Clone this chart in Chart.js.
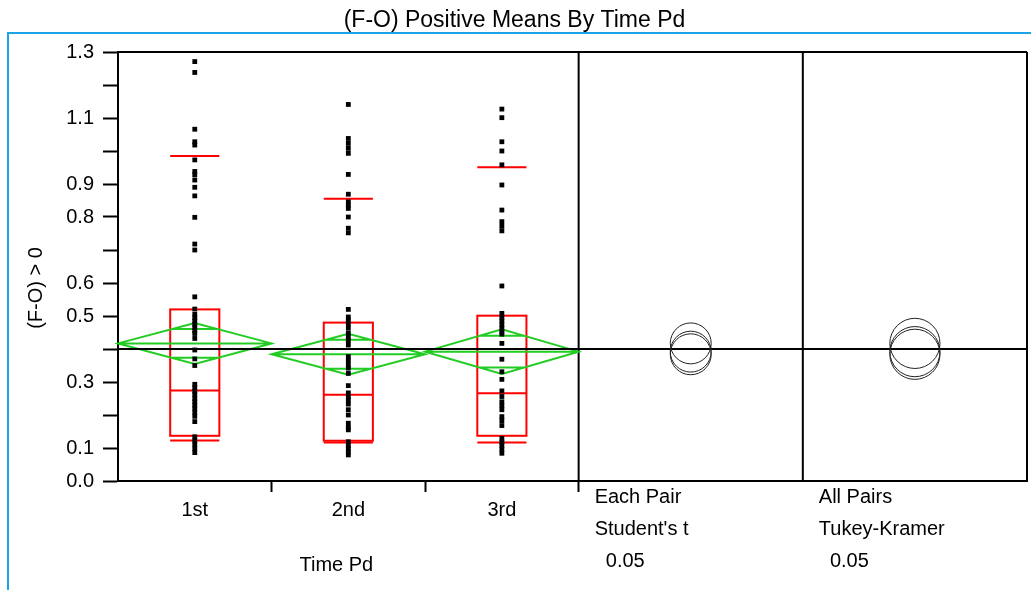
<!DOCTYPE html>
<html>
<head>
<meta charset="utf-8">
<script src="https://cdn.jsdelivr.net/npm/chart.js@4"></script>
<style>
  html, body { margin: 0; padding: 0; background: #fff; }
  #wrap { width: 1031px; height: 590px; }
</style>
</head>
<body>
<div id="wrap"><canvas id="chart"></canvas></div>
<script>
// categories
const groups = ['1st', '2nd', '3rd'];

// raw (F-O) values per time period
const pts1st = [1.271, 1.238, 1.066, 1.028, 1.018, 0.973, 0.938, 0.928, 0.912, 0.89, 0.864, 0.799, 0.718, 0.70,
    0.558, 0.521, 0.505, 0.495, 0.485, 0.475, 0.465, 0.455, 0.447, 0.432, 0.397, 0.37, 0.35,
    0.293, 0.283, 0.272, 0.262, 0.25, 0.24, 0.23, 0.22, 0.208, 0.196, 0.18,
    0.134, 0.122, 0.11, 0.098, 0.086];
const pts2nd = [1.141, 1.038, 1.023, 1.008, 0.993, 0.929, 0.869, 0.846, 0.836, 0.826, 0.80, 0.766, 0.752,
    0.52, 0.497, 0.487, 0.476, 0.463, 0.448, 0.436, 0.425, 0.412, 0.377, 0.365, 0.352, 0.342, 0.326,
    0.289, 0.267, 0.256, 0.245, 0.233, 0.216, 0.2, 0.175, 0.163, 0.155,
    0.119, 0.108, 0.098, 0.088, 0.079];
const pts3rd = [1.127, 1.101, 1.028, 1.0, 0.958, 0.897, 0.821, 0.786, 0.772, 0.758, 0.591,
    0.508, 0.496, 0.485, 0.474, 0.463, 0.452, 0.445, 0.417, 0.369, 0.331, 0.308,
    0.273, 0.256, 0.24, 0.228, 0.216, 0.195, 0.183, 0.168,
    0.129, 0.118, 0.107, 0.096, 0.084];

// quantile boxes
const q10 = [0.123, 0.117, 0.117];
const q25 = [0.137, 0.122, 0.137];
const q50 = [0.274, 0.261, 0.266];
const q75 = [0.52, 0.48, 0.501];
const q90 = [0.985, 0.855, 0.951];

// means diamonds
const means = [0.417, 0.384, 0.392];
const ciHalf = [0.062, 0.062, 0.068];
const grandMean = 0.40;

// comparison circles (radius in data units)
const studentRadius = 0.062;
const tukeyRadius = 0.076;
const compareTexts = [
    ['Each Pair', "Student's t", '  0.05'],
    ['All Pairs', 'Tukey-Kramer', '  0.05']
];

// y ticks that carry a label
const yLabelled = [0.0, 0.1, 0.3, 0.5, 0.6, 0.8, 0.9, 1.1, 1.3];

const panelWidth = 1.46;
const xMax = groups.length + 2 * panelWidth;
const FONT = 'Liberation Sans, Arial, sans-serif';
const RED = '#FF0000';
const GREEN = '#22CC22';

const allPts = [pts1st, pts2nd, pts3rd];
const pointData = [];
allPts.forEach((arr, i) => arr.forEach(v => pointData.push({ x: i + 0.5, y: v })));

function circleRadius(r) {
    return (ctx) => {
        const s = ctx.chart.scales.y;
        return s.getPixelForValue(0) - s.getPixelForValue(r);
    };
}

const circleStyle = {
    type: 'scatter',
    pointStyle: 'circle',
    backgroundColor: 'rgba(0,0,0,0)',
    borderColor: '#222',
    borderWidth: 1
};

const decor = {
    id: 'decor',
    beforeDatasetsDraw(chart) {
        const { ctx, chartArea: a, scales: { x, y } } = chart;
        ctx.save();
        // frame + panel dividers
        ctx.strokeStyle = '#000';
        ctx.lineWidth = 2;
        ctx.beginPath();
        ctx.moveTo(a.left, a.top); ctx.lineTo(a.right, a.top);
        [groups.length, groups.length + panelWidth, xMax].forEach(v => {
            const px = x.getPixelForValue(v);
            ctx.moveTo(px, a.top); ctx.lineTo(px, a.bottom);
        });
        ctx.stroke();

        // quantile boxes
        ctx.strokeStyle = RED;
        ctx.lineWidth = 2;
        groups.forEach((g, i) => {
            const l = x.getPixelForValue(i + 0.5 - 0.16);
            const r = x.getPixelForValue(i + 0.5 + 0.16);
            const t = y.getPixelForValue(q75[i]);
            const b = y.getPixelForValue(q25[i]);
            ctx.strokeRect(l, t, r - l, b - t);
            ctx.beginPath();
            [q50[i], q10[i], q90[i]].forEach(v => {
                const py = y.getPixelForValue(v);
                ctx.moveTo(l, py); ctx.lineTo(r, py);
            });
            ctx.stroke();
        });

        // means diamonds
        ctx.strokeStyle = GREEN;
        ctx.lineWidth = 2;
        groups.forEach((g, i) => {
            const l = x.getPixelForValue(i);
            const c = x.getPixelForValue(i + 0.5);
            const r = x.getPixelForValue(i + 1);
            const m = y.getPixelForValue(means[i]);
            const t = y.getPixelForValue(means[i] + ciHalf[i]);
            const b = y.getPixelForValue(means[i] - ciHalf[i]);
            ctx.beginPath();
            ctx.moveTo(l, m); ctx.lineTo(c, t); ctx.lineTo(r, m); ctx.lineTo(c, b); ctx.closePath();
            ctx.moveTo(l, m); ctx.lineTo(r, m);
            // overlap marks
            const half = (r - l) / 2 * (1 - Math.SQRT1_2);
            [1, -1].forEach(s => {
                const py = y.getPixelForValue(means[i] + s * ciHalf[i] * Math.SQRT1_2);
                ctx.moveTo(c - half, py); ctx.lineTo(c + half, py);
            });
            ctx.stroke();
        });

        // grand mean
        ctx.strokeStyle = '#000';
        ctx.lineWidth = 2;
        const gm = y.getPixelForValue(grandMean);
        ctx.beginPath();
        ctx.moveTo(a.left, gm); ctx.lineTo(a.right, gm);
        ctx.stroke();
        ctx.restore();
    },
    afterDraw(chart) {
        const { ctx, chartArea: a, scales: { x, y } } = chart;
        ctx.save();
        ctx.fillStyle = '#000';
        ctx.font = '20px ' + FONT;
        ctx.textBaseline = 'middle';

        // x axis title, centred under the groups
        ctx.textAlign = 'center';
        ctx.fillText('Time Pd', (x.getPixelForValue(0) + x.getPixelForValue(groups.length)) / 2 - 12, 565);

        // comparison labels
        ctx.textAlign = 'left';
        compareTexts.forEach((lines, k) => {
            const px = x.getPixelForValue(groups.length + k * panelWidth) + 16;
            lines.forEach((t, j) => ctx.fillText(t, px, 497 + j * 32));
        });

        // y axis title
        ctx.save();
        ctx.translate(36, 288);
        ctx.rotate(-Math.PI / 2);
        ctx.textAlign = 'center';
        ctx.fillText('(F-O) > 0', 0, 0);
        ctx.restore();

        // blue outline
        ctx.strokeStyle = '#1AA3E6';
        ctx.lineWidth = 2;
        ctx.beginPath();
        ctx.moveTo(1031, 33); ctx.lineTo(8, 33); ctx.lineTo(8, 590);
        ctx.stroke();
        ctx.restore();
    }
};

const chart = new Chart(document.getElementById('chart'), {
    type: 'scatter',
    data: {
        datasets: [
            {
                data: pointData,
                pointStyle: 'rect',
                pointRadius: 3.4,
                backgroundColor: '#000',
                borderWidth: 0
            },
            Object.assign({
                data: means.map(m => ({ x: groups.length + panelWidth / 2, y: m })),
                pointRadius: circleRadius(studentRadius)
            }, circleStyle),
            Object.assign({
                data: means.map(m => ({ x: groups.length + panelWidth * 1.5, y: m })),
                pointRadius: circleRadius(tukeyRadius)
            }, circleStyle)
        ]
    },
    plugins: [decor],
    options: {
        responsive: true,
        maintainAspectRatio: false,
        animation: false,
        events: [],
        layout: {
            padding: { left: 0, right: 2, top: 0, bottom: 0 }
        },
        plugins: {
            legend: { display: false },
            tooltip: { enabled: false },
            title: {
                display: true,
                text: '(F-O) Positive Means By Time Pd',
                color: '#000',
                font: { family: FONT, size: 23, weight: 'normal' },
                padding: { top: 6.5, bottom: 17.9 }
            }
        },
        scales: {
            x: {
                type: 'linear',
                min: 0,
                max: xMax,
                afterBuildTicks: (scale) => {
                    scale.ticks = [0.5, 1, 1.5, 2, 2.5, 3].map(v => ({ value: v }));
                },
                afterFit: (scale) => { scale.height = 109; },
                grid: {
                    drawOnChartArea: false,
                    tickLength: 11,
                    tickWidth: 2,
                    tickColor: (ctx) => (ctx.tick && ctx.tick.value % 1 === 0) ? '#000' : 'rgba(0,0,0,0)'
                },
                border: { color: '#000', width: 2 },
                ticks: {
                    color: '#000',
                    font: { family: FONT, size: 20 },
                    padding: 6,
                    maxRotation: 0,
                    autoSkip: false,
                    callback: (v) => (v % 1 === 0.5) ? groups[Math.floor(v)] : ''
                }
            },
            y: {
                min: 0,
                max: 1.3,
                afterFit: (scale) => { scale.width = 118; },
                grid: {
                    drawOnChartArea: false,
                    tickLength: 15,
                    tickWidth: 2,
                    tickColor: '#000'
                },
                border: { color: '#000', width: 2 },
                ticks: {
                    stepSize: 0.1,
                    color: '#000',
                    font: { family: FONT, size: 20 },
                    padding: 9,
                    autoSkip: false,
                    callback: (v) => yLabelled.some(t => Math.abs(t - v) < 1e-6) ? v.toFixed(1) : ''
                }
            }
        }
    }
});
</script>
</body>
</html>
